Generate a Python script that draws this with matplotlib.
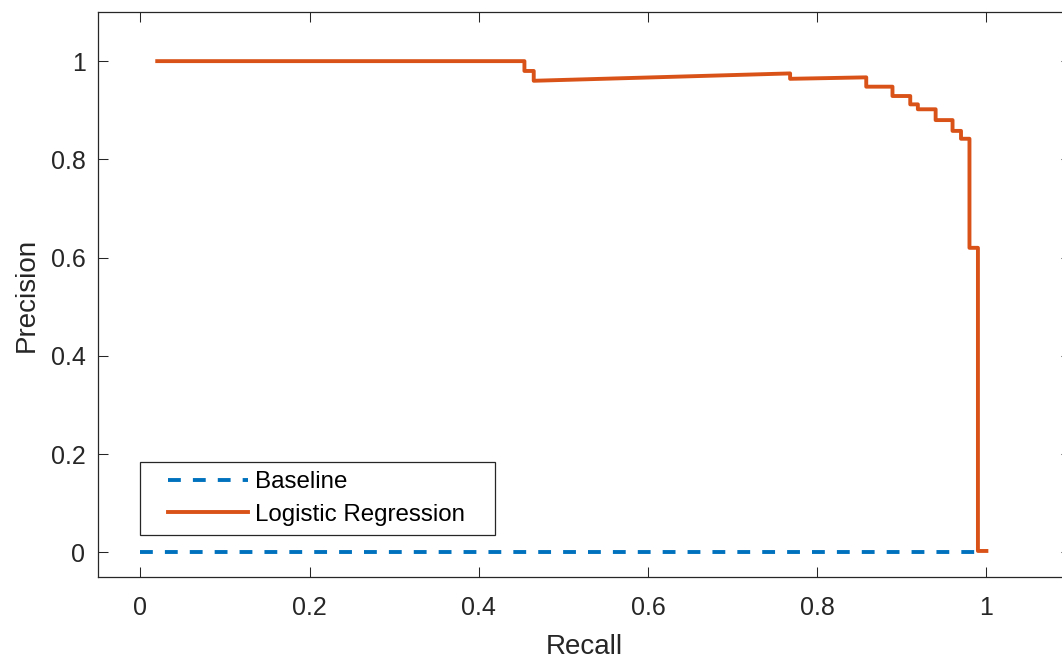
import matplotlib
matplotlib.use('Agg')
import matplotlib.pyplot as plt
from matplotlib.legend_handler import HandlerLine2D

plt.rcParams['font.family'] = ['Liberation Sans', 'DejaVu Sans']

# precision-recall curve
recall = [0.02, 0.454, 0.454, 0.465, 0.465, 0.768, 0.768, 0.858, 0.858, 0.889,
          0.889, 0.910, 0.910, 0.919, 0.919, 0.940, 0.940, 0.960, 0.960, 0.970,
          0.970, 0.980, 0.980, 0.990, 0.990, 1.0]
precision = [1.0, 1.0, 0.980, 0.980, 0.960, 0.975, 0.964, 0.967, 0.948, 0.948,
             0.929, 0.929, 0.912, 0.912, 0.902, 0.902, 0.880, 0.880, 0.858, 0.858,
             0.842, 0.842, 0.620, 0.620, 0.003, 0.003]
base_recall = [0, 1]
base_precision = [0.0017, 0.0017]

blue = '#0072BD'
orange = '#D95319'
axcol = '#262626'

fig = plt.figure(figsize=(10.62, 6.6), dpi=100)
ax = fig.add_axes([98/1062, 83/660, 973/1062, 565/660])

lw = 2.8
ax.plot(base_recall, base_precision, color=blue, lw=lw, dashes=(3.3, 3.1),
        label='Baseline')
ax.plot(recall, precision, color=orange, lw=lw, label='Logistic Regression')

ax.set_xlim(-0.05, 1.1)
ax.set_ylim(-0.05, 1.1)
ax.set_xticks([0, 0.2, 0.4, 0.6, 0.8, 1])
ax.set_xticklabels(['0', '0.2', '0.4', '0.6', '0.8', '1'])
ax.set_yticks([0, 0.2, 0.4, 0.6, 0.8, 1])
ax.set_yticklabels(['0', '0.2', '0.4', '0.6', '0.8', '1'])
ax.tick_params(direction='in', length=7, width=0.75, colors=axcol,
               labelsize=18, top=True, right=True, pad=9)
ax.tick_params(axis='x', pad=14)
for s in ax.spines.values():
    s.set_color(axcol)
    s.set_linewidth(0.9)

ax.set_xlabel('Recall', fontsize=20, color=axcol, labelpad=10)
ax.set_ylabel('Precision', fontsize=20, color=axcol, labelpad=8)

hm = {l: HandlerLine2D(xpad=0.78) for l in ax.get_lines()}
leg = ax.legend(loc='lower left', bbox_to_anchor=(0.043, 0.074),
                borderaxespad=0, fontsize=17.4, handlelength=4.08,
                handletextpad=0.3, labelspacing=0.42, borderpad=0.4,
                fancybox=False, framealpha=1, edgecolor=axcol,
                handler_map=hm)
leg.get_frame().set_linewidth(0.9)
leg.texts[1].set_text('Logistic Regression   ')

fig.savefig('out.png', dpi=100)
